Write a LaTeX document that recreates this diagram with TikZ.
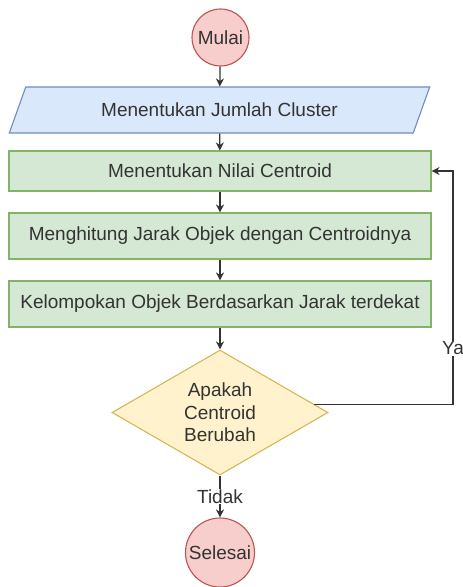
\documentclass[tikz,border=0pt]{standalone}
\usepackage{fontspec}
\setmainfont{Liberation Sans}
\usetikzlibrary{shapes.geometric}
\usetikzlibrary{arrows.meta}

\definecolor{txtgray}{HTML}{333333}
\definecolor{redfill}{HTML}{F8CECC}
\definecolor{redline}{HTML}{B85450}
\definecolor{bluefill}{HTML}{DAE8FC}
\definecolor{blueline}{HTML}{6C8EBF}
\definecolor{greenfill}{HTML}{D5E8D4}
\definecolor{greenline}{HTML}{82B366}
\definecolor{yellowfill}{HTML}{FFF2CC}
\definecolor{yellowline}{HTML}{D6B656}

\tikzset{
  every node/.style={font=\fontsize{19}{22.5}\selectfont,text=txtgray},
  terminal/.style={circle,draw=redline,fill=redfill,line width=1.1pt,inner sep=0pt},
  inbox/.style={trapezium,trapezium left angle=63.4,trapezium right angle=116.6,
    trapezium stretches=true,minimum width=421,minimum height=46,
    draw=blueline,fill=bluefill,line width=1.1pt},
  procbox/.style={rectangle,draw=greenline,fill=greenfill,line width=1.1pt,
    minimum width=422,minimum height=46},
  decbox/.style={diamond,aspect=1.728,inner sep=0pt,minimum width=216,minimum height=125,
    draw=yellowline,fill=yellowfill,line width=1.1pt,align=center},
  arr/.style={-{Stealth[length=8pt,width=8pt]},draw=txtgray,line width=1.3pt}
}

\begin{document}
\begin{tikzpicture}[x=1pt,y=-1pt]
      \useasboundingbox (0,0) rectangle (463,587);
      \node[terminal,minimum size=57] (start) at (220.5,37.5) {Mulai};
      \node[inbox] (jumlah) at (219.5,110) {Menentukan Jumlah Cluster};
      \node[procbox,minimum height=40] (nilai) at (220,171) {Menentukan Nilai Centroid};
      \node[procbox] (jarak) at (220,236) {Menghitung Jarak Objek dengan Centroidnya};
      \node[procbox] (kelompok) at (220,304) {Kelompokan Objek Berdasarkan Jarak terdekat};
      \node[decbox] (ubah) at (220,412.5) {Apakah\\Centroid\\Berubah};
      \node[terminal,minimum size=69] (stop) at (220,552.5) {Selesai};
      \coordinate (balik) at (453,171);

      \draw[arr] (start) -- (jumlah);
      \draw[arr] (jumlah) -- (nilai);
      \draw[arr] (nilai) -- (jarak);
      \draw[arr] (jarak) -- (kelompok);
      \draw[arr] (kelompok) -- (ubah);
      \draw[arr] (ubah.south) -- node[fill=white,inner sep=1pt] {Tidak} (stop);
      % loop back when the centroid moved
      \draw[arr] (ubah.5) -| node[pos=0.62,fill=white,inner sep=1pt] {Ya} (balik) -- (nilai.east);
    \end{tikzpicture}
\end{document}
